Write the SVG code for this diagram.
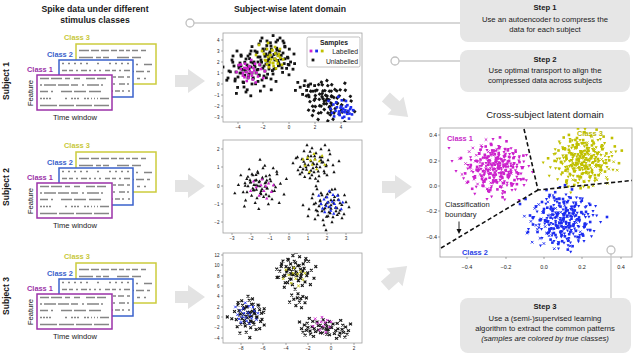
<svg xmlns="http://www.w3.org/2000/svg" width="640" height="354" viewBox="0 0 640 354">
<style>
text{font-family:"Liberation Sans",Arial,sans-serif;fill:#1a1a1a}
.h{font-size:8.7px;font-weight:bold;text-anchor:middle}
.h2{font-size:9.5px;text-anchor:middle}
.subj{font-size:8.5px;font-weight:bold;text-anchor:middle}
.cl{font-size:7.4px;font-weight:bold}
.ax{font-size:7.6px}
.mid{text-anchor:middle}
.end{text-anchor:end}
.stp{font-size:7.7px;text-anchor:middle}
.b{font-weight:bold}
.i{font-style:italic}
.tk{font-size:4.5px;fill:#333}
.tkc{font-size:5.5px;fill:#333}
.lg{font-size:6.8px}
.c1{fill:#9b32a8}.c2{fill:#3a62cc}.c3{fill:#c8c83a}
.m1{fill:#c828c8}.m2{fill:#2a3ee6}.m3{fill:#b9b900}
.frame{fill:#fff;stroke:#a0a0a0;stroke-width:0.8}
.ticks{stroke:#555;stroke-width:0.5;fill:none}
.box{fill:#e6e6e6}
.conn{stroke:#cacaca;stroke-width:1.3;fill:none}
.dot{fill:#fff;stroke:#c0c0c0;stroke-width:1.3}
.big{fill:#e3e3e3}
.row{stroke:#858585;stroke-width:1.5;fill:none}
.bnd{stroke:#111;stroke-width:1.6;stroke-dasharray:4.2 2.6;fill:none}
.sK{marker-start:url(#sK);marker-mid:url(#sK);marker-end:url(#sK)}
.sM{marker-start:url(#sM);marker-mid:url(#sM);marker-end:url(#sM)}
.sB{marker-start:url(#sB);marker-mid:url(#sB);marker-end:url(#sB)}
.sY{marker-start:url(#sY);marker-mid:url(#sY);marker-end:url(#sY)}
.tK{marker-start:url(#tK);marker-mid:url(#tK);marker-end:url(#tK)}
.tM{marker-start:url(#tM);marker-mid:url(#tM);marker-end:url(#tM)}
.tB{marker-start:url(#tB);marker-mid:url(#tB);marker-end:url(#tB)}
.tY{marker-start:url(#tY);marker-mid:url(#tY);marker-end:url(#tY)}
.dM{marker-start:url(#dM);marker-mid:url(#dM);marker-end:url(#dM)}
.dB{marker-start:url(#dB);marker-mid:url(#dB);marker-end:url(#dB)}
.dY{marker-start:url(#dY);marker-mid:url(#dY);marker-end:url(#dY)}
.xK{marker-start:url(#xK);marker-mid:url(#xK);marker-end:url(#xK)}
.xM{marker-start:url(#xM);marker-mid:url(#xM);marker-end:url(#xM)}
.xB{marker-start:url(#xB);marker-mid:url(#xB);marker-end:url(#xB)}
.xY{marker-start:url(#xY);marker-mid:url(#xY);marker-end:url(#xY)}
</style>
<defs>
<marker id="sK" markerUnits="strokeWidth" markerWidth="4" markerHeight="4" refX="0" refY="0" overflow="visible"><rect x="-1.4" y="-1.4" width="2.8" height="2.8" fill="#141414"/></marker>
<marker id="sM" markerUnits="strokeWidth" markerWidth="4" markerHeight="4" refX="0" refY="0" overflow="visible"><rect x="-1.3" y="-1.3" width="2.6" height="2.6" fill="#cc22cc"/></marker>
<marker id="sB" markerUnits="strokeWidth" markerWidth="4" markerHeight="4" refX="0" refY="0" overflow="visible"><rect x="-1.3" y="-1.3" width="2.6" height="2.6" fill="#1c2cf0"/></marker>
<marker id="sY" markerUnits="strokeWidth" markerWidth="4" markerHeight="4" refX="0" refY="0" overflow="visible"><rect x="-1.3" y="-1.3" width="2.6" height="2.6" fill="#c0c000"/></marker>
<marker id="tK" markerUnits="strokeWidth" markerWidth="4" markerHeight="4" refX="0" refY="0" overflow="visible"><path d="M0,-1.8L1.65,1.15L-1.65,1.15Z" fill="#141414"/></marker>
<marker id="tM" markerUnits="strokeWidth" markerWidth="4" markerHeight="4" refX="0" refY="0" overflow="visible"><path d="M0,-1.8L1.65,1.15L-1.65,1.15Z" fill="#cc22cc"/></marker>
<marker id="tB" markerUnits="strokeWidth" markerWidth="4" markerHeight="4" refX="0" refY="0" overflow="visible"><path d="M0,-1.8L1.65,1.15L-1.65,1.15Z" fill="#1c2cf0"/></marker>
<marker id="tY" markerUnits="strokeWidth" markerWidth="4" markerHeight="4" refX="0" refY="0" overflow="visible"><path d="M0,-1.8L1.65,1.15L-1.65,1.15Z" fill="#c0c000"/></marker>
<marker id="dM" markerUnits="strokeWidth" markerWidth="4" markerHeight="4" refX="0" refY="0" overflow="visible"><path d="M0,1.7L1.55,-1.1L-1.55,-1.1Z" fill="#cc22cc"/></marker>
<marker id="dB" markerUnits="strokeWidth" markerWidth="4" markerHeight="4" refX="0" refY="0" overflow="visible"><path d="M0,1.7L1.55,-1.1L-1.55,-1.1Z" fill="#1c2cf0"/></marker>
<marker id="dY" markerUnits="strokeWidth" markerWidth="4" markerHeight="4" refX="0" refY="0" overflow="visible"><path d="M0,1.7L1.55,-1.1L-1.55,-1.1Z" fill="#c0c000"/></marker>
<marker id="xK" markerUnits="strokeWidth" markerWidth="4" markerHeight="4" refX="0" refY="0" overflow="visible"><path d="M-1.4,-1.4L1.4,1.4M-1.4,1.4L1.4,-1.4" stroke="#141414" stroke-width="1.1"/></marker>
<marker id="xM" markerUnits="strokeWidth" markerWidth="4" markerHeight="4" refX="0" refY="0" overflow="visible"><path d="M-1.3,-1.3L1.3,1.3M-1.3,1.3L1.3,-1.3" stroke="#cc22cc" stroke-width="0.9"/></marker>
<marker id="xB" markerUnits="strokeWidth" markerWidth="4" markerHeight="4" refX="0" refY="0" overflow="visible"><path d="M-1.3,-1.3L1.3,1.3M-1.3,1.3L1.3,-1.3" stroke="#1c2cf0" stroke-width="0.9"/></marker>
<marker id="xY" markerUnits="strokeWidth" markerWidth="4" markerHeight="4" refX="0" refY="0" overflow="visible"><path d="M-1.3,-1.3L1.3,1.3M-1.3,1.3L1.3,-1.3" stroke="#c0c000" stroke-width="0.9"/></marker>
<marker id="ah" markerWidth="6" markerHeight="6" refX="3" refY="3" orient="auto" markerUnits="userSpaceOnUse"><path d="M0,0.5L5,3L0,5.5Z" fill="#111"/></marker>
<polyline id="cA" fill="none" stroke="none" points="0,0 5,-3 -6,2 12,4 -11,-6 3,9 -2,-12 8,-9 -14,5 17,-2 -4,14 10,11 -9,-14 1,4 -3,-5 6,2 -7,8 14,-12 -18,-1 4,-17 -1,19 20,7 -12,12 9,-4 -5,-1 2,-7 -16,-9 13,1 -8,-3 7,15 -21,6 0,-22 16,14 -3,3 11,-15 -10,0 5,7 -6,-9 22,-6 -13,17"/>
<polyline id="cB" fill="none" stroke="none" points="2,1 -4,-2 7,-6 -9,4 1,-10 11,3 -6,10 15,-9 -13,-4 4,13 -2,5 9,8 -11,-12 6,-14 -17,7 18,2 0,-4 -7,-7 3,18 -19,-5 13,-3 -1,9 8,-1 -5,15 24,-2 -10,1 12,12 -3,-15 5,4 -15,11 10,-18 -8,-18 19,9 -22,0 1,23 -4,-7 14,-13 -12,6 6,-3 -2,0"/>
<polyline id="cC" fill="none" stroke="none" points="3,-2 -5,4 8,6 -8,-5 1,10 12,-4 -12,1 4,-11 -3,-1 6,1 -7,12 15,8 -1,-16 10,-10 -15,-10 0,5 -10,7 17,-1 5,14 -4,-8"/>
<polyline id="cD" fill="none" stroke="none" points="2,3 -6,-1 7,-5 -3,8 10,4 -9,-7 0,-9 5,11 -12,3 12,-3 -1,-3 4,-2"/>
<polygon id="barrow" points="0,-6 13,-6 13,-12 30,0 13,12 13,6 0,6"/>
<g id="raster">
<rect x="76" y="44" width="80" height="40" fill="#fff" stroke="#cccc3c" stroke-width="1.5"/>
<path class="row" d="M79,50.5H153" stroke-dasharray="10 2 8 2 8 2 6 2 5 2 4 2 6 3 5"/>
<path class="row" d="M79,57.5H153" stroke-dasharray="14 3 5 2 6 8 12 3 9"/>
<path class="row" d="M79,64.5H153" stroke-dasharray="3 5 2 6 8 4 2 7 9 3"/>
<path class="row" d="M79,71.5H153" stroke-dasharray="6 4 2 8 3 3 7 2 10"/>
<path class="row" d="M79,78.5H153" stroke-dasharray="2 6 12 3 4 2 9"/>
<rect x="59" y="60" width="74" height="37" fill="#fff" stroke="#3a62cc" stroke-width="1.5"/>
<path class="row" d="M62,63.5H130" stroke-dasharray="2 4 2 4 2 4 2 4 2 9 2 10"/>
<path class="row" d="M62,70.5H130" stroke-dasharray="5 2 4 3 2 3 6 2 2 3 2 3 2 4"/>
<path class="row" d="M62,77H130" stroke-dasharray="2 9 2 3 2 6 3 4 2 3 2"/>
<path class="row" d="M62,84H130" stroke-dasharray="7 3 2 4 6 2 2 5 8 2"/>
<path class="row" d="M62,91H130" stroke-dasharray="3 2 10 3 2 5 2 2 4"/>
<rect x="37" y="75" width="75" height="35" fill="#fff" stroke="#9b32a8" stroke-width="1.5"/>
<path class="row" d="M40,78.5H109" stroke-dasharray="9 2 11 3 5 4 6 6 9 2 9"/>
<path class="row" d="M40,85H109" stroke-dasharray="2 2 12 2 11 2 7 4 2 3 12"/>
<path class="row" d="M40,91.5H109" stroke-dasharray="8 3 2 8 11 2 12 3 12"/>
<path class="row" d="M40,98.5H109" stroke-dasharray="2 1 2 1 2 1 2 14 2 4 2 1 2 1 2 5 2 1 2"/>
<path class="row" d="M40,105.5H109" stroke-dasharray="17 2 15 2 16 2 15"/>
</g>
<clipPath id="clip1"><rect x="223" y="33" width="139" height="89"/></clipPath>
<clipPath id="clip2"><rect x="223" y="140" width="139" height="93"/></clipPath>
<clipPath id="clip3"><rect x="223" y="253" width="139" height="90"/></clipPath>
<clipPath id="clipX"><rect x="440" y="128" width="192" height="129"/></clipPath>
</defs>

<rect width="640" height="354" fill="#fff"/>

<g id="headers">
<text class="h" x="95" y="11.5">Spike data under different</text>
<text class="h" x="95" y="22.5">stimulus classes</text>
<text class="h" x="290" y="12">Subject-wise latent domain</text>
</g>

<g id="spikes-subject1">
<text class="subj" transform="translate(8.5,81) rotate(-90)">Subject 1</text>
<use href="#raster"/>
<text class="cl c3" x="64" y="40">Class 3</text>
<text class="cl c2" x="47" y="56.5">Class 2</text>
<text class="cl c1" x="27" y="72">Class 1</text>
<text class="ax mid" transform="translate(32.5,93) rotate(-90)">Feature</text>
<text class="ax mid" x="75" y="120">Time window</text>
</g>

<g id="spikes-subject2">
<text class="subj" transform="translate(8.5,187) rotate(-90)">Subject 2</text>
<use href="#raster" transform="translate(0,108)"/>
<text class="cl c3" x="64" y="148">Class 3</text>
<text class="cl c2" x="47" y="164.5">Class 2</text>
<text class="cl c1" x="27" y="180">Class 1</text>
<text class="ax mid" transform="translate(32.5,201) rotate(-90)">Feature</text>
<text class="ax mid" x="75" y="228">Time window</text>
</g>

<g id="spikes-subject3">
<text class="subj" transform="translate(8.5,296) rotate(-90)">Subject 3</text>
<use href="#raster" transform="translate(0,219)"/>
<text class="cl c3" x="64" y="259">Class 3</text>
<text class="cl c2" x="47" y="275.5">Class 2</text>
<text class="cl c1" x="27" y="291">Class 1</text>
<text class="ax mid" transform="translate(32.5,312) rotate(-90)">Feature</text>
<text class="ax mid" x="75" y="339">Time window</text>
</g>

<g id="latent-subject1">
<rect class="frame" x="223" y="33" width="139" height="89"/>
<path class="ticks" d="M221,40h2M221,51h2M221,62h2M221,73h2M221,84h2M221,95h2M221,106h2M221,117h2M238,122v2M263,122v2M289,122v2M315,122v2M341,122v2"/>
<g class="tk end"><text x="219.5" y="41.6">4</text><text x="219.5" y="52.6">3</text><text x="219.5" y="63.6">2</text><text x="219.5" y="74.6">1</text><text x="219.5" y="85.6">0</text><text x="219.5" y="96.6">−1</text><text x="219.5" y="107.6">−2</text><text x="219.5" y="118.6">−3</text></g>
<g class="tk mid"><text x="238" y="129">−4</text><text x="263" y="129">−2</text><text x="289" y="129">0</text><text x="315" y="129">2</text><text x="341" y="129">4</text></g>
<g clip-path="url(#clip1)">
<use href="#cA" class="sK" transform="translate(252,73) scale(1.2)" style="stroke-width:.833"/>
<use href="#cB" class="sK" transform="translate(247,69) scale(-1,1)"/>
<use href="#cB" class="sK" transform="translate(270,56) scale(1.0)"/>
<use href="#cC" class="sK" transform="translate(274,50) scale(0.9)" style="stroke-width:1.111"/>
<use href="#cD" class="sK" transform="translate(285,66) scale(0.8)" style="stroke-width:1.25"/>
<use href="#cA" class="sK" transform="translate(331,103) rotate(35) scale(1.1)" style="stroke-width:.909"/>
<use href="#cB" class="sK" transform="translate(325,99) rotate(35) scale(-0.9,0.9)" style="stroke-width:1.111"/>
<use href="#cD" class="sK" transform="translate(305,88) scale(0.8)" style="stroke-width:1.25"/>
<use href="#cC" class="sM" transform="translate(252,72) scale(0.75)" style="stroke-width:1.333"/>
<use href="#cD" class="sM" transform="translate(245,70) scale(0.7)" style="stroke-width:1.43"/>
<use href="#cD" class="sY" transform="translate(268,52) scale(1.0)"/>
<use href="#cC" class="sY" transform="translate(273,60) scale(0.6)" style="stroke-width:1.67"/>
<use href="#cC" class="sB" transform="translate(339,108) scale(0.7)" style="stroke-width:1.43"/>
<use href="#cD" class="sB" transform="translate(346,112) scale(0.6)" style="stroke-width:1.67"/>
</g>
<rect x="307" y="37" width="53" height="30" rx="1.5" fill="#fff" stroke="#999" stroke-width="0.6"/>
<text class="lg b mid" x="334" y="45">Samples</text>
<rect x="309.6" y="49.6" width="2.8" height="2.8" fill="#cc22cc"/>
<rect x="315.2" y="49.6" width="2.8" height="2.8" fill="#1c2cf0"/>
<rect x="320.8" y="49.6" width="2.8" height="2.8" fill="#c0c000"/>
<text class="lg end" x="358" y="53.5">Labelled</text>
<rect x="311.6" y="58.6" width="2.8" height="2.8" fill="#141414"/>
<text class="lg end" x="358" y="63.5">Unlabelled</text>
</g>

<g id="latent-subject2">
<rect class="frame" x="223" y="140" width="139" height="93"/>
<path class="ticks" d="M221,149h2M221,167h2M221,186h2M221,204h2M221,222h2M232,233v2M251,233v2M270,233v2M289,233v2M308,233v2M327,233v2M346,233v2"/>
<g class="tk end"><text x="219.5" y="150.6">2</text><text x="219.5" y="168.6">1</text><text x="219.5" y="187.6">0</text><text x="219.5" y="205.6">−1</text><text x="219.5" y="223.6">−2</text></g>
<g class="tk mid"><text x="232" y="240">−3</text><text x="251" y="240">−2</text><text x="270" y="240">−1</text><text x="289" y="240">0</text><text x="308" y="240">1</text><text x="327" y="240">2</text><text x="346" y="240">3</text></g>
<g clip-path="url(#clip2)">
<use href="#cA" class="tK" transform="translate(260,186) scale(1.2)" style="stroke-width:.833"/>
<use href="#cC" class="tK" transform="translate(262,184) scale(-1.0,1.0)"/>
<use href="#cB" class="tK" transform="translate(315,163) scale(1.0)"/>
<use href="#cC" class="tK" transform="translate(311,166) scale(0.9)" style="stroke-width:1.111"/>
<use href="#cB" class="tK" transform="translate(327,207) scale(-1.0,1.0)"/>
<use href="#cC" class="tK" transform="translate(331,204) scale(-0.9,0.9)" style="stroke-width:1.111"/>
<use href="#cD" class="tK" transform="translate(256,183) scale(0.9)" style="stroke-width:1.111"/>
<use href="#cD" class="tM" transform="translate(262,188) scale(0.95)" style="stroke-width:1.053"/>
<use href="#cD" class="tY" transform="translate(314,162) scale(-0.9,0.9)" style="stroke-width:1.111"/>
<use href="#cC" class="tB" transform="translate(330,203) scale(0.75)" style="stroke-width:1.333"/>
</g>
</g>

<g id="latent-subject3">
<rect class="frame" x="223" y="253" width="139" height="90"/>
<path class="ticks" d="M221,255h2M221,265h2M221,276h2M221,286h2M221,296h2M221,307h2M221,317h2M221,327h2M221,338h2M241,343v2M263,343v2M286,343v2M308,343v2M331,343v2M354,343v2"/>
<g class="tk end"><text x="219.5" y="256.6">12</text><text x="219.5" y="266.6">10</text><text x="219.5" y="277.6">8</text><text x="219.5" y="287.6">6</text><text x="219.5" y="297.6">4</text><text x="219.5" y="308.6">2</text><text x="219.5" y="318.6">0</text><text x="219.5" y="328.6">−2</text><text x="219.5" y="339.6">−4</text></g>
<g class="tk mid"><text x="241" y="350">−8</text><text x="263" y="350">−6</text><text x="286" y="350">−4</text><text x="308" y="350">−2</text><text x="331" y="350">0</text><text x="354" y="350">2</text></g>
<g clip-path="url(#clip3)">
<use href="#cA" class="xK" transform="translate(296,272) scale(0.9)" style="stroke-width:1.111"/>
<use href="#cC" class="xK" transform="translate(292,270) scale(-0.9,0.9)" style="stroke-width:1.111"/>
<use href="#cD" class="xK" transform="translate(298,300) scale(0.7)" style="stroke-width:1.43"/>
<use href="#cB" class="xK" transform="translate(248,316) scale(0.9) rotate(90)" style="stroke-width:1.111"/>
<use href="#cC" class="xK" transform="translate(250,313) scale(0.8)" style="stroke-width:1.25"/>
<use href="#cC" class="xK" transform="translate(310,328) scale(0.7,0.6)" style="stroke-width:1.54"/>
<use href="#cC" class="xK" transform="translate(340,330) scale(-0.7,0.6)" style="stroke-width:1.54"/>
<use href="#cD" class="xK" transform="translate(325,327) scale(0.6) rotate(90)" style="stroke-width:1.67"/>
<use href="#cD" class="xY" transform="translate(294,276) scale(0.9)" style="stroke-width:1.111"/>
<use href="#cC" class="xB" transform="translate(246,314) scale(0.7)" style="stroke-width:1.43"/>
<use href="#cD" class="xM" transform="translate(322,324) scale(0.75)" style="stroke-width:1.333"/>
</g>
</g>

<g id="step1">
<rect class="box" x="460" y="-8" width="170" height="50" rx="8"/>
<text class="stp b" x="545" y="9.5">Step 1</text>
<text class="stp" x="545" y="22">Use an autoencoder to compress the</text>
<text class="stp" x="545" y="32">data for each subject</text>
</g>

<g id="step2">
<rect class="box" x="460" y="50" width="170" height="42" rx="8"/>
<text class="stp b" x="545" y="62">Step 2</text>
<text class="stp" x="545" y="72.5">Use optimal transport to align the</text>
<text class="stp" x="545" y="83">compressed data across subjects</text>
</g>

<g id="cross-subject">
<text class="h2" x="545" y="117.5">Cross-subject latent domain</text>
<rect class="frame" x="440" y="128" width="192" height="129"/>
<path class="ticks" d="M438,135h2M438,161h2M438,186h2M438,211h2M438,237h2M467,257v2M506,257v2M544,257v2M582,257v2M621,257v2"/>
<g class="tkc end"><text x="437" y="137">0.4</text><text x="437" y="163">0.2</text><text x="437" y="188">0.0</text><text x="437" y="213">−0.2</text><text x="437" y="239">−0.4</text></g>
<g class="tkc mid"><text x="467" y="268.5">−0.4</text><text x="506" y="268.5">−0.2</text><text x="544" y="268.5">0.0</text><text x="582" y="268.5">0.2</text><text x="621" y="268.5">0.4</text></g>
<g clip-path="url(#clipX)">
<use href="#cA" class="dM" transform="translate(493,170) scale(1.4)" style="stroke-width:.714"/>
<use href="#cB" class="sM" transform="translate(500,166) scale(1.3) rotate(90)" style="stroke-width:.769"/>
<use href="#cA" class="xM" transform="translate(486,166) scale(-1.2,1.2)" style="stroke-width:.833"/>
<use href="#cB" class="dM" transform="translate(506,172) scale(-1.2,1.2)" style="stroke-width:.833"/>
<use href="#cC" class="sM" transform="translate(482,172) scale(1.4)" style="stroke-width:.714"/>
<use href="#cD" class="dM" transform="translate(505,160) scale(1.2)" style="stroke-width:.833"/>
<use href="#cA" class="sM" transform="translate(498,168) scale(1.1) rotate(90)" style="stroke-width:.909"/>
<use href="#cB" class="dM" transform="translate(490,165) scale(1.0)"/>
<use href="#cC" class="dM" transform="translate(510,166) scale(-1.1,1.1)" style="stroke-width:.909"/>
<polyline class="dM" fill="none" points="449,148 452,161 487,199 519,200 456,171"/>
<use href="#cA" class="dY" transform="translate(585,160) scale(1.4)" style="stroke-width:.714"/>
<use href="#cB" class="sY" transform="translate(578,157) scale(1.3) rotate(90)" style="stroke-width:.769"/>
<use href="#cA" class="xY" transform="translate(592,163) scale(-1.2,1.2)" style="stroke-width:.833"/>
<use href="#cB" class="dY" transform="translate(572,165) scale(-1.2,1.2)" style="stroke-width:.833"/>
<use href="#cC" class="sY" transform="translate(598,152) scale(1.4)" style="stroke-width:.714"/>
<use href="#cD" class="dY" transform="translate(570,150) scale(1.2)" style="stroke-width:.833"/>
<use href="#cA" class="sY" transform="translate(582,163) scale(1.1) rotate(90)" style="stroke-width:.909"/>
<use href="#cB" class="dY" transform="translate(588,158) scale(1.0)"/>
<use href="#cC" class="dY" transform="translate(576,160) scale(-1.1,1.1)" style="stroke-width:.909"/>
<use href="#cA" class="dB" transform="translate(560,220) scale(1.5)" style="stroke-width:.667"/>
<use href="#cB" class="sB" transform="translate(565,216) scale(1.4) rotate(90)" style="stroke-width:.714"/>
<use href="#cA" class="xB" transform="translate(553,224) scale(-1.3,1.3)" style="stroke-width:.769"/>
<use href="#cB" class="dB" transform="translate(572,222) scale(-1.3,1.3)" style="stroke-width:.769"/>
<use href="#cC" class="sB" transform="translate(548,214) scale(1.5)" style="stroke-width:.667"/>
<use href="#cD" class="dB" transform="translate(580,210) scale(1.3)" style="stroke-width:.769"/>
<use href="#cA" class="sB" transform="translate(566,222) scale(1.1) rotate(90)" style="stroke-width:.909"/>
<use href="#cB" class="dB" transform="translate(558,217) scale(1.1)" style="stroke-width:.909"/>
<use href="#cC" class="dB" transform="translate(570,226) scale(-1.2,1.2)" style="stroke-width:.833"/>
<polyline class="sB" fill="none" points="607,217 520,204 528,232"/>
</g>
<path class="bnd" d="M524,129L538,190L632,180.5M538,190L441,248"/>
<text class="cl m1" x="447" y="141">Class 1</text>
<text class="cl m3" x="577" y="136">Class 3</text>
<text class="cl m2" x="462" y="255">Class 2</text>
<text class="ax" x="445" y="207">Classification</text>
<text class="ax" x="445" y="216.5">boundary</text>
<path d="M459,221.5V232" stroke="#111" stroke-width="0.9" marker-end="url(#ah)"/>
</g>

<g id="step3">
<rect class="box" x="460" y="298" width="171" height="55" rx="8"/>
<text class="stp b" x="545" y="309">Step 3</text>
<text class="stp" x="545" y="321">Use a (semi-)supervised learning</text>
<text class="stp" x="545" y="331">algorithm to extract the common patterns</text>
<text class="stp i" x="545" y="341">(samples are colored by true classes)</text>
</g>

<g id="connectors">
<use href="#barrow" class="big" transform="translate(175,81)"/>
<use href="#barrow" class="big" transform="translate(175,186)"/>
<use href="#barrow" class="big" transform="translate(175,297)"/>
<use href="#barrow" class="big" transform="translate(397,107) rotate(42) translate(-15,0)"/>
<use href="#barrow" class="big" transform="translate(382,187)"/>
<use href="#barrow" class="big" transform="translate(396,276) rotate(-42) translate(-15,0)"/>
<path class="conn" d="M194,23H460"/>
<circle class="dot" cx="190" cy="23" r="4"/>
<path class="conn" d="M399,61H460"/>
<circle class="dot" cx="395" cy="61" r="4"/>
<path class="conn" d="M611,254V298"/>
<circle class="dot" cx="611" cy="250" r="4"/>
</g>
</svg>
